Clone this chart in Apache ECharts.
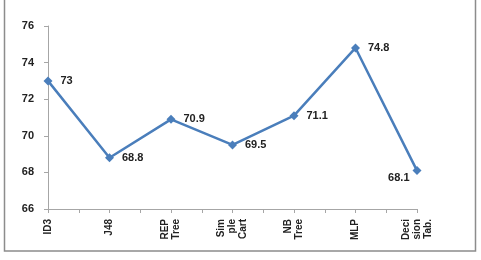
<!DOCTYPE html>
<html>
<head>
<meta charset="utf-8">
<script src="https://cdn.jsdelivr.net/npm/echarts@6/dist/echarts.min.js"></script>
<style>
html,body{margin:0;padding:0;background:#fff;}
#chart{width:481px;height:260px;}
</style>
</head>
<body>
<div id="chart"></div>
<script>
// 分类名称 (x轴标签)
const categories = ['ID3', 'J48', 'REP\nTree', 'Sim\nple\nCart', 'NB\nTree', 'MLP', 'Deci\nsion\nTab.'];
// 准确率
const accuracy = [73, 68.8, 70.9, 69.5, 71.1, 74.8, 68.1];
const yTicks = [66, 68, 70, 72, 74, 76];

let mycharts = echarts.init(document.getElementById('chart'));

const points = accuracy.map((v, i) => ({
    value: [i, v],
    label: i === accuracy.length - 1
        ? { position: 'left', distance: 3, offset: [0, 7] }
        : {}
}));

mycharts.setOption({
    animation: false,
    grid: { left: 48, right: 64, top: 26, bottom: 51 },
    graphic: [{
        type: 'rect',
        shape: { x: 4.5, y: -5, width: 471, height: 256 },
        style: { fill: 'none', stroke: '#8c8c8c', lineWidth: 1.5 },
        silent: true
    }],
    xAxis: {
        type: 'value',
        min: 0,
        max: categories.length - 1,
        interval: 0.5,
        splitLine: { show: false },
        axisLine: { show: true, lineStyle: { color: '#a6a6a6' } },
        axisTick: { show: true, length: 4, lineStyle: { color: '#a6a6a6' } },
        axisLabel: {
            rotate: 90,
            margin: 10,
            fontSize: 10,
            fontWeight: 'bold',
            lineHeight: 11,
            color: '#222',
            fontFamily: 'Liberation Sans',
            formatter: v => Number.isInteger(v) ? categories[v] : ''
        }
    },
    yAxis: {
        type: 'value',
        min: yTicks[0],
        max: yTicks[yTicks.length - 1],
        interval: 2,
        splitLine: { show: false },
        axisLine: { show: true, lineStyle: { color: '#a6a6a6' } },
        axisTick: { show: true, length: 4, lineStyle: { color: '#a6a6a6' } },
        axisLabel: {
            margin: 14,
            fontSize: 11,
            fontWeight: 'bold',
            color: '#222',
            fontFamily: 'Liberation Sans'
        }
    },
    series: [{
        type: 'line',
        data: points,
        symbol: 'diamond',
        symbolSize: 9,
        lineStyle: { color: '#4a7ebb', width: 2.5 },
        itemStyle: { color: '#4a7ebb' },
        label: {
            show: true,
            position: 'right',
            distance: 8,
            fontSize: 11,
            fontWeight: 'bold',
            color: '#222',
            fontFamily: 'Liberation Sans',
            formatter: p => p.value[1]
        }
    }]
});
</script>
</body>
</html>
